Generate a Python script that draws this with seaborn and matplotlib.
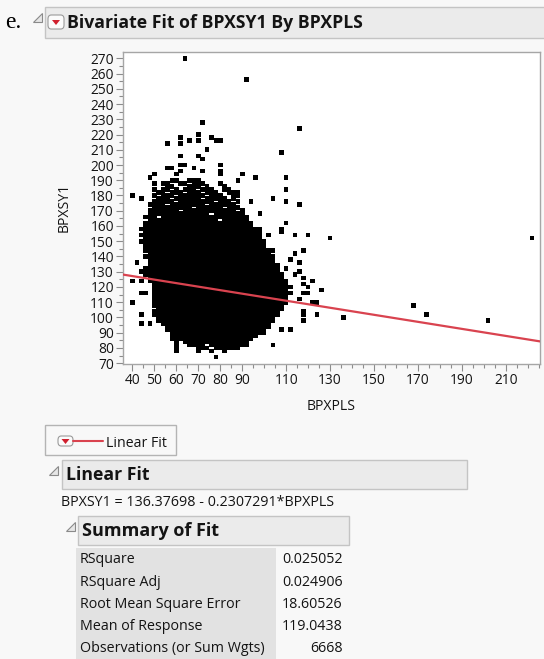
import numpy as np
import pandas as pd
import matplotlib
matplotlib.use("Agg")
import matplotlib.pyplot as plt
import seaborn as sns
from matplotlib.patches import Rectangle, FancyBboxPatch, Polygon
from matplotlib.ticker import FixedLocator, MultipleLocator

# ---------------- data ----------------
# dense core of the scatter: row segments (y value, first x, last x) on the even-integer grid
seg_y = [188, 188, 188, 188, 188,
         186, 186, 186, 186,
         184, 184, 184, 184, 184, 184,
         182, 182, 182, 182, 182,
         180, 180, 180, 180, 180,
         178, 178, 178, 178, 178,
         176, 176, 176, 176, 176,
         174, 174, 174,
         172, 172, 172,
         170, 170, 170,
         168, 168, 168,
         166, 166, 164, 164, 162, 160,
         158, 156, 154, 152, 150, 148, 146, 144, 142, 140, 138, 136, 134, 132,
         130, 128, 126, 124, 122, 120, 118, 116, 114, 112, 110, 108, 106, 104,
         102, 100, 98, 96, 94, 92, 90, 88, 86,
         84, 84, 82, 82, 82, 80, 80, 80,
         78, 78, 78, 78, 74]
seg_x0 = [50, 56, 62, 68, 80,
          56, 66, 74, 82,
          50, 54, 60, 64, 72, 82,
          52, 58, 66, 74, 84,
          50, 54, 62, 76, 86,
          44, 52, 60, 74, 86,
          50, 62, 80, 88, 94,
          48, 58, 76,
          50, 70, 84,
          48, 64, 90,
          48, 78, 98,
          46, 54, 48, 82, 46, 46,
          44, 46, 44, 46, 44, 46, 46, 46, 48, 46, 48, 48, 48, 46,
          44, 46, 48, 48, 50, 50, 50, 50, 50, 50, 50, 50, 52, 50,
          50, 52, 52, 54, 56, 56, 58, 58, 58,
          60, 64, 60, 66, 76, 60, 70, 78,
          60, 70, 76, 82, 78]
seg_x1 = [50, 56, 64, 72, 80,
          58, 70, 74, 82,
          50, 56, 60, 68, 76, 84,
          54, 62, 70, 78, 88,
          50, 58, 72, 80, 88,
          44, 56, 70, 82, 86,
          58, 76, 84, 88, 94,
          54, 72, 86,
          66, 80, 88,
          60, 86, 90,
          74, 90, 98,
          50, 92, 78, 92, 94, 94,
          96, 96, 98, 98, 100, 100, 100, 102, 102, 104, 104, 104, 106, 106,
          106, 108, 108, 110, 110, 112, 110, 112, 110, 110, 110, 108, 108, 106,
          106, 104, 104, 102, 102, 100, 100, 96, 94,
          60, 92, 60, 72, 92, 60, 74, 88,
          60, 70, 76, 82, 78]

# isolated points outside the dense core
out_x = [64, 92, 72, 116, 70, 62, 76, 66, 70, 78, 80, 56, 62, 74, 108, 62, 70, 72,
         62, 64, 80, 56, 58, 68, 62, 72, 80, 50, 60, 80, 90, 48, 96, 110, 58, 60,
         66, 68, 70, 88, 54, 110, 40, 104, 110, 116, 98, 110, 98, 108, 98, 108,
         102, 114, 120, 130, 222, 104, 118, 114, 112, 116, 110, 116, 114, 118,
         122, 118, 120, 126, 118, 120, 122, 124, 116, 118, 118, 124, 118, 136,
         168, 174, 202, 108, 112, 104, 40, 44, 42, 40, 44, 46, 44, 48, 44]
out_y = [270, 256, 228, 224, 220, 218, 218, 216, 216, 216, 216, 214, 214, 210, 208, 206, 206, 204,
         200, 200, 200, 198, 198, 198, 196, 196, 196, 194, 194, 194, 194, 192, 192, 192, 190, 190,
         190, 190, 190, 190, 188, 184, 180, 178, 176, 174, 168, 162, 158, 158, 156, 156,
         154, 154, 154, 152, 152, 144, 144, 142, 138, 136, 132, 130, 128, 126,
         124, 122, 120, 118, 116, 116, 110, 110, 112, 104, 102, 102, 98, 100,
         108, 102, 98, 92, 92, 82, 124, 124, 136, 110, 116, 116, 96, 96, 102]

fit_intercept = 136.37698
fit_slope = -0.2307291

x_tick_values = [40, 50, 60, 70, 80, 90, 110, 130, 150, 170, 190, 210]
y_tick_values = list(range(70, 271, 10))

summary_labels = ["RSquare", "RSquare Adj", "Root Mean Square Error",
                  "Mean of Response", "Observations (or Sum Wgts)"]
summary_values = ["0.025052", "0.024906", "18.60526", "119.0438", "6668"]

title_text = "Bivariate Fit of BPXSY1 By BPXPLS"
equation_text = "BPXSY1 = 136.37698 - 0.2307291*BPXPLS"

# ---------------- build point table ----------------
pts_x, pts_y = [], []
for yv, a, b in zip(seg_y, seg_x0, seg_x1):
    for xv in range(a, b + 1, 2):
        pts_x.append(xv)
        pts_y.append(yv)
pts_x += out_x
pts_y += out_y
df = pd.DataFrame({"BPXPLS": pts_x, "BPXSY1": pts_y})

# ---------------- figure ----------------
W, H = 544, 659
sns.set_theme(style="white")
plt.rcParams["font.family"] = ["Open Sans", "DejaVu Sans"]
BG = "#f8f8f8"
TXT = "#141414"
fig = plt.figure(figsize=(W / 100, H / 100), dpi=100, facecolor=BG)


def fx(x):
    return x / W


def fy(y):
    return 1 - y / H


def box(x0, y0, x1, y1, fc, ec, lw=1.0, z=1):
    r = Rectangle((fx(x0), fy(y1)), fx(x1) - fx(x0), fy(y0) - fy(y1),
                  transform=fig.transFigure, facecolor=fc, edgecolor=ec,
                  linewidth=lw, zorder=z)
    fig.add_artist(r)


def tri(x0, y0, size):
    p = Polygon([(fx(x0), fy(y0 + size)), (fx(x0 + size), fy(y0 + size)),
                 (fx(x0 + size), fy(y0))], closed=True, transform=fig.transFigure,
                facecolor="#e6e6e6", edgecolor="#8a8a8a", linewidth=0.8, zorder=3)
    fig.add_artist(p)


def red_icon(x0, y0, w, h):
    r = FancyBboxPatch((fx(x0), fy(y0 + h)), fx(w), h / H,
                       boxstyle="round,pad=0,rounding_size=0.006",
                       transform=fig.transFigure, facecolor="#fbfbfb",
                       edgecolor="#9a9a9a", linewidth=0.8, zorder=3)
    fig.add_artist(r)
    cx, cy = x0 + w / 2, y0 + h / 2
    t = Polygon([(fx(cx - 4), fy(cy - 2)), (fx(cx + 4), fy(cy - 2)), (fx(cx), fy(cy + 3))],
                closed=True, transform=fig.transFigure, facecolor="#d0202e",
                edgecolor="none", zorder=4)
    fig.add_artist(t)


# page "e." label
fig.text(fx(5), fy(22), "e.", fontsize=17, family="Liberation Serif",
         va="center", ha="left", color="black")

# top header
tri(33, 13, 9)
box(44.5, 7, 560, 38, "#ebebeb", "#c4c4c4")
red_icon(48, 15, 16, 14)
fig.text(fx(67), fy(22.5), title_text, fontsize=12.7, fontweight="bold",
         va="center", ha="left", color=TXT)

# plot area
ax = fig.add_axes([fx(123), fy(364), fx(540) - fx(123), fy(51.7) - fy(364)])
ax.set_facecolor("white")
sns.scatterplot(data=df, x="BPXPLS", y="BPXSY1", marker="s", s=11,
                color="black", edgecolor="none", linewidth=0, ax=ax, zorder=2)

xlim = (35.7, 225.6)
ylim = (69.5, 274.3)
line_df = pd.DataFrame({"x": list(xlim)})
line_df["y"] = fit_intercept + fit_slope * line_df["x"]
sns.lineplot(data=line_df, x="x", y="y", color="#d9434f", linewidth=1.6,
             ax=ax, zorder=3)
ax.set_xlim(*xlim)
ax.set_ylim(*ylim)

ax.xaxis.set_major_locator(FixedLocator(x_tick_values))
ax.set_xticklabels([str(v) for v in x_tick_values])
ax.xaxis.set_minor_locator(MultipleLocator(5))
ax.yaxis.set_major_locator(FixedLocator(y_tick_values))
ax.set_yticklabels([str(v) for v in y_tick_values])
ax.yaxis.set_minor_locator(MultipleLocator(5))
ax.tick_params(axis="both", which="major", direction="out", length=5, width=0.8,
               color="#8c8c8c", labelsize=9.9, labelcolor=TXT, pad=1.5)
ax.tick_params(axis="both", which="minor", direction="out", length=3, width=0.8,
               color="#8c8c8c")
ax.tick_params(axis="x", which="both", bottom=True)
ax.tick_params(axis="y", which="both", left=True)
for s in ax.spines.values():
    s.set_color("#a6a6a6")
    s.set_linewidth(1.0)
ax.set_xlabel("BPXPLS", fontsize=10.1, color=TXT, labelpad=8)
ax.set_ylabel("BPXSY1", fontsize=10.1, color=TXT, labelpad=13)

# legend box
box(45, 425, 175.5, 455, BG, "#b4b4b4")
red_icon(58, 436, 15, 10)
fig.add_artist(plt.Line2D([fx(73), fx(103)], [fy(441), fy(441)],
                          transform=fig.transFigure, color="#d9434f", linewidth=1.5, zorder=4))
fig.text(fx(106), fy(443.5), "Linear Fit", fontsize=10.2, va="center", ha="left",
         color=TXT)

# Linear Fit header
tri(49, 466, 9)
box(62, 460, 467, 488.5, "#ebebeb", "#c4c4c4")
fig.text(fx(66), fy(474.5), "Linear Fit", fontsize=12.7, fontweight="bold",
         va="center", ha="left", color=TXT)

fig.text(fx(61), fy(503), equation_text, fontsize=10.3, va="center", ha="left",
         color=TXT)

# Summary of Fit header
tri(66, 522, 9)
box(78, 516, 349, 545, "#ebebeb", "#c4c4c4")
fig.text(fx(82), fy(530.5), "Summary of Fit", fontsize=13.0, fontweight="bold",
         va="center", ha="left", color=TXT)

# table
box(76, 548, 276, 660, "#e2e2e2", "none", lw=0)
row_y = [559.5, 582, 604, 626, 648.3]
for lab, val, yy in zip(summary_labels, summary_values, row_y):
    fig.text(fx(80), fy(yy), lab, fontsize=10.3, va="center", ha="left", color=TXT)
    fig.text(fx(342.5), fy(yy), val, fontsize=10.3, va="center", ha="right", color=TXT)

fig.savefig("out.png", dpi=100, facecolor=BG)
